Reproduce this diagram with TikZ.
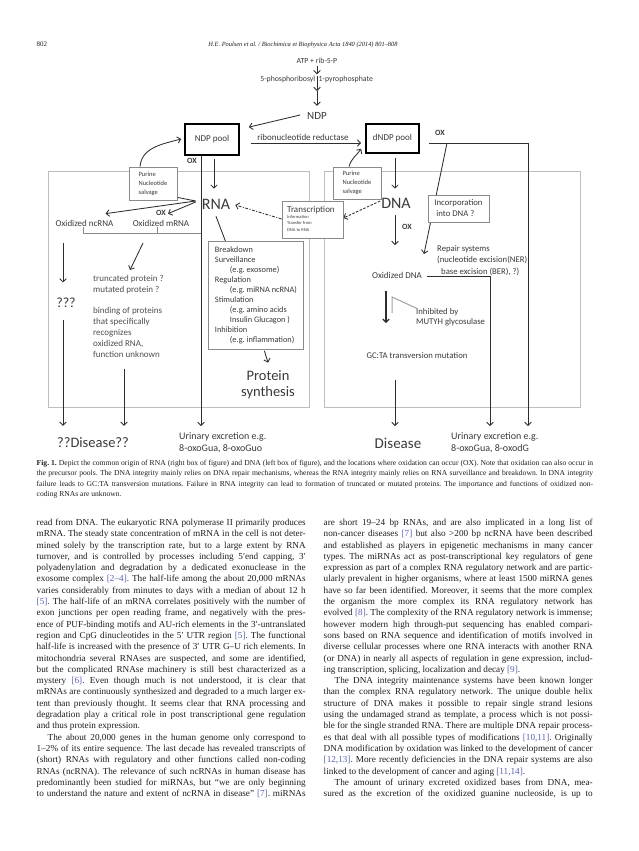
\documentclass[tikz,border=0pt]{standalone}
\usepackage{fontspec}
\setmainfont{Liberation Serif}
\newfontfamily\figfont{Carlito}
\usepackage{graphicx}
\usetikzlibrary{arrows.meta,backgrounds}
\definecolor{figtext}{HTML}{3A3A3A}
\definecolor{figline}{HTML}{2E2E2E}
\definecolor{boxgray}{HTML}{8A8A8A}
\definecolor{biggray}{HTML}{BDBDBD}
\definecolor{citec}{HTML}{5A62B0}
\definecolor{bodyc}{HTML}{1E1E1E}
\definecolor{trunctext}{HTML}{505050}
\frenchspacing
\newcommand\FF[2]{\figfont\fontsize{#1}{#2}\selectfont}
\newcommand\CiteC[1]{\textcolor{citec}{#1}}
\newcommand\JLine[2]{\sbox0{#2}%
  \ifdim\wd0>\dimexpr#1\relax
    \pgfmathsetmacro\sqf{\the\dimexpr#1\relax/\the\wd0}%
    \scalebox{\sqf}[1]{\usebox0}%
  \else\makebox[#1][s]{#2}\fi}
\newcommand\BodyJ[4]{\node[bodytxt] (#1) at (#2,#3) {\JLine{269pt}{#4}};}
\newcommand\BodyP[4]{\node[bodytxt] (#1) at (#2,#3) {#4};}
\begin{document}
\begin{tikzpicture}[x=1pt,y=-1pt,
  ftxt/.style={inner sep=0pt, text=figtext},
  fl/.style={draw=figline, line width=0.85pt},
  arr/.style={fl, -{Straight Barb[length=3.2pt,width=6.5pt]}},
  darr/.style={arr, dash pattern=on 2.5pt off 1.5pt},
  ddarr/.style={arr, dash pattern=on 3pt off 1.5pt on 1pt off 1.5pt},
  bfl/.style={draw=boxgray, line width=0.8pt},
  inhib/.style={draw=boxgray!80, line width=1pt},
  thinbox/.style={draw=boxgray, line width=0.8pt, fill=white},
  pool/.style={draw=black, line width=1.7pt, fill=white, inner sep=0pt, text=figtext, font=\FF{9}{11}},
  bigbox/.style={draw=biggray, line width=1pt},
  bodytxt/.style={anchor=base west, inner sep=0pt, text=bodyc, font=\fontsize{9.2}{11.3}\selectfont},
  captxt/.style={anchor=base west, inner sep=0pt, text=bodyc, font=\fontsize{7.6}{10}\selectfont},
]
\useasboundingbox (0,0) rectangle (638,851);

% ---------------- header
\node[anchor=base west, inner sep=0pt, text=bodyc, font=\fontsize{7}{9}\selectfont] (pg) at (36.5,47) {802};
\node[anchor=base, inner sep=0pt, text=bodyc, font=\itshape\fontsize{6.4}{9}\selectfont] (hd) at (303,47) {H.E. Poulsen et al. / Biochimica et Biophysica Acta 1840 (2014) 801–808};

% ---------------- figure nodes
\node[ftxt,font=\FF{7.8}{9}] (atp) at (317,61) {ATP + rib-5-P};
\node[ftxt,font=\FF{7.8}{9},anchor=base east] (prppa) at (315.5,81.5) {5-phosphoribosyl};
\node[ftxt,font=\FF{7.8}{9},anchor=base west] (prppb) at (318.5,81.5) {1-pyrophosphate};
\node[ftxt,font=\FF{11}{13}] (ndp) at (317,116) {NDP};
\node[pool,minimum width=54pt,minimum height=31pt] (ndppool) at (212,139.5) {NDP pool};
\node[pool,minimum width=53pt,minimum height=29pt] (dndppool) at (392.5,138.5) {dNDP pool};
\node[ftxt,font=\FF{9}{11}] (rr) at (303,137) {ribonucleotide reductase};
\node[ftxt,font=\FF{8}{10}\bfseries] (oxa) at (192,161) {OX};
\node[ftxt,font=\FF{16}{18}] (rna) at (216,204) {RNA};
\node[ftxt,font=\FF{16}{18}] (dna) at (396,203) {DNA};
\node[thinbox,text=figtext,inner sep=0pt,align=left,font=\FF{6.5}{9},minimum width=48pt,minimum height=33pt] (salva) at (153,183.5) {Purine\\Nucleotide\\salvage};
\node[thinbox,text=figtext,inner sep=0pt,align=left,font=\FF{6.5}{9},minimum width=48pt,minimum height=32pt] (salvb) at (357,183) {Purine\\Nucleotide\\salvage};
\node[thinbox,minimum width=61pt,minimum height=37pt] (trans) at (312.5,219.5) {};
\node[ftxt,anchor=base west,font=\FF{9}{11}] (transt) at (287,212) {Transcription};
\node[ftxt,anchor=north west,align=left,font=\FF{4.5}{6.5}] (transs) at (287,215) {Information\\Transfer from\\DNA to RNA};
\node[ftxt,font=\FF{9}{11}] (oxnc) at (84.5,223) {Oxidized ncRNA};
\node[ftxt,font=\FF{9}{11}] (oxm) at (161,223) {Oxidized mRNA};
\node[ftxt,font=\FF{8}{10}\bfseries] (oxb) at (161,212.5) {OX};
\node[ftxt,font=\FF{14}{16}] (q3) at (66,303) {???};
\node[ftxt,anchor=north west,align=left,font=\FF{9}{11.5},text=trunctext] (trunc) at (93,275) {truncated protein ?\\mutated protein ?};
\node[ftxt,anchor=north west,align=left,font=\FF{9}{11},text=trunctext] (bind) at (93,307.5) {binding of proteins\\that specifically\\recognizes\\oxidized RNA,\\function unknown};
\node[thinbox,anchor=north west,inner xsep=5pt,inner ysep=4pt,minimum width=95pt,minimum height=108pt,align=left,text=figtext,font=\FF{8.3}{10}] (brk) at (208,241) {Breakdown\\Surveillance\\\hspace*{15pt}(e.g. exosome)\\Regulation\\\hspace*{15pt}(e.g. miRNA ncRNA)\\Stimulation\\\hspace*{15pt}(e.g. amino acids\\\hspace*{15pt}Insulin Glucagon )\\Inhibition\\\hspace*{15pt}(e.g. inflammation)};
\node[ftxt,align=center,font=\FF{14.5}{16}] (prot) at (268,385) {Protein\\synthesis};
\node[ftxt,font=\FF{8}{10}\bfseries] (oxc) at (440,133) {OX};
\node[ftxt,font=\FF{8}{10}\bfseries] (oxd) at (407,227) {OX};
\node[thinbox,text=figtext,inner sep=0pt,align=left,font=\FF{8.7}{11},minimum width=61pt,minimum height=27pt] (inc) at (458.5,208.5) {Incorporation\\\hspace*{2pt}into DNA ?};
\node[ftxt,anchor=north west,align=left,font=\FF{8.7}{11.5}] (rep) at (437,245) {Repair systems\\(nucleotide excision(NER)\\\hspace*{4pt}base excision (BER), ?)};
\node[ftxt,font=\FF{9}{11}] (oxdna) at (397,275) {Oxidized DNA};
\node[ftxt,anchor=north west,align=left,font=\FF{8.7}{10.5}] (inh) at (416,308) {Inhibited by\\MUTYH glycosulase};
\node[ftxt,font=\FF{8.7}{11}] (gcta) at (417,356) {GC:TA transversion mutation};
\node[ftxt,font=\FF{14.5}{16}] (disa) at (93,443) {??Disease??};
\node[ftxt,font=\FF{15}{17}] (disb) at (398,443) {Disease};
\node[ftxt,anchor=north west,align=left,font=\FF{10}{12.5}] (ura) at (179,432) {Urinary excretion e.g.\\8-oxoGua, 8-oxoGuo};
\node[ftxt,anchor=north west,align=left,font=\FF{10}{12.5}] (urb) at (451,432) {Urinary excretion e.g.\\8-oxoGua, 8-oxodG};

% ---------------- connectors (under the boxes)
\begin{pgfonlayer}{background}
\fill[white] (0,0) rectangle (638,851);
\draw[bigbox] (48,171) rectangle (309,407);
\draw[bigbox] (324,171) rectangle (580,407);
% top chain
\coordinate (kmid) at (317,91);
\draw[arr,shorten <=1.8pt,shorten >=1.6pt] (atp.south) -- (atp.south |- prppa.north);
\draw[arr] (atp.south |- prppa.north) -- (kmid);
\draw[arr,shorten >=6.5pt] (kmid) -- (ndp.north);
\draw[arr] ([xshift=-7pt,yshift=1pt]ndp.west) -- ([xshift=9pt,yshift=-4pt]ndppool.north east);
\draw[arr] ([xshift=11pt,yshift=-3.5pt]ndppool.east) -- ([xshift=-4pt,yshift=-4.5pt]dndppool.west);
\draw[arr] ([xshift=-13pt]salva.north) to[out=85,in=195] ([xshift=-3pt,yshift=0.5pt]ndppool.west);
\draw[arr] ([xshift=-8pt]salvb.north) to[out=75,in=235] ([xshift=-4pt,yshift=5pt]dndppool.south west);
\draw[arr] ([xshift=2pt,yshift=-3pt]ndppool.south) -- ([xshift=-2pt,yshift=10pt]rna.north);
\draw[arr] ([xshift=2.5pt,yshift=-4pt]dndppool.south) -- ([xshift=-1pt,yshift=9pt]dna.north);
% RNA side
\coordinate (e1) at ([xshift=22pt,yshift=6pt]ura.north west);
\draw[arr] ([xshift=-11pt]ndppool.south) -- (e1);
\draw[bfl] (83,227) -- (83,233) -- (201,233);
\draw[bfl] (157,227) -- (157,233);
\coordinate (j1) at ([xshift=-6pt,yshift=3pt]rna.west);
\draw[fl] (j1) -- ([yshift=3pt]salva.south east);
\draw[arr] (j1) -- ([xshift=-8pt,yshift=6pt]oxnc.north east);
\draw[arr] ([yshift=-1pt]j1) -- ([xshift=7pt,yshift=6pt]oxm.north);
\draw[ddarr] ([yshift=0.5pt]trans.west) -- ([xshift=5pt,yshift=-1pt]rna.east);
\draw[darr] ([xshift=-1pt,yshift=2pt]dna.west) -- ([yshift=1.5pt]trans.east);
\draw[fl] ([yshift=-7pt]rna.south) -- ([xshift=-30.5pt]brk.north);
\draw[arr] ([xshift=8.5pt,yshift=-1pt]brk.south) -- ([yshift=8pt]prot.north);
\coordinate (s1) at (63,243);
\coordinate (s2) at (143,243);
\draw[arr] (s1) -- ([xshift=-3pt,yshift=15.5pt]q3.north);
\draw[arr] ([xshift=-3pt,yshift=-11.5pt]q3.south) -- ([xshift=-30pt,yshift=12pt]disa.north);
\draw[arr] (s2) -- ([xshift=37pt,yshift=5pt]trunc.north west);
\draw[arr] ([xshift=31pt,yshift=-11pt]bind.south west) -- ([xshift=31pt,yshift=12pt]disa.north);
% DNA side
\coordinate (o1) at ([xshift=9pt,yshift=-4.5pt]dndppool.east);
\coordinate (o2) at (528,143);
\coordinate (o3) at (447,143);
\draw[arr] (o1) -- (o2) -- ([xshift=77pt,yshift=6pt]urb.north west);
\draw[arr] (o3) -- ([xshift=-13pt,yshift=-9pt]rep.north west);
\coordinate (t5) at (395,245);
\draw[arr] ([xshift=-1pt,yshift=-7pt]dna.south) -- (t5);
\coordinate (o4) at (490,276);
\draw[arr] ([xshift=5pt,yshift=-1pt]oxdna.east) -- (o4) -- ([xshift=39pt,yshift=6pt]urb.north west);
\coordinate (t6) at (386,323);
\draw[arr,line width=1.1pt] ([xshift=-11pt,yshift=-13pt]oxdna.south) -- (t6);
\coordinate (ib) at (392,297);
\draw[inhib] (392,313) -- (ib) -- ([xshift=1pt,yshift=-0.5pt]inh.north west);
\draw[arr] ([xshift=-22pt,yshift=-21pt]gcta.south) -- ([xshift=-3pt,yshift=11.5pt]disb.north);
\end{pgfonlayer}

% ---------------- caption
\node[captxt] (cap1) at (36.5,465) {\JLine{556.5pt}{\textbf{Fig. 1.} Depict the common origin of RNA (right box of figure) and DNA (left box of figure), and the locations where oxidation can occur (OX). Note that oxidation can also occur in}};
\node[captxt] (cap2) at (36.5,475.5) {\JLine{556.5pt}{the precursor pools. The DNA integrity mainly relies on DNA repair mechanisms, whereas the RNA integrity mainly relies on RNA surveillance and breakdown. In DNA integrity}};
\node[captxt] (cap3) at (36.5,486) {\JLine{556.5pt}{failure leads to GC:TA transversion mutations. Failure in RNA integrity can lead to formation of truncated or mutated proteins. The importance and functions of oxidized non-}};
\node[captxt] (cap4) at (36.5,496.5) {coding RNAs are unknown.};

% ---------------- left column
\BodyJ{l1}{36.5}{525.4}{read from DNA. The eukaryotic RNA polymerase II primarily produces}
\BodyJ{l2}{36.5}{536.7}{mRNA. The steady state concentration of mRNA in the cell is not deter-}
\BodyJ{l3}{36.5}{548.0}{mined solely by the transcription rate, but to a large extent by RNA}
\BodyJ{l4}{36.5}{559.3}{turnover, and is controlled by processes including 5′end capping, 3′}
\BodyJ{l5}{36.5}{570.6}{polyadenylation and degradation by a dedicated exonuclease in the}
\BodyJ{l6}{36.5}{581.9}{exosome complex \CiteC{[2–4]}. The half-life among the about 20,000 mRNAs}
\BodyJ{l7}{36.5}{593.2}{varies considerably from minutes to days with a median of about 12 h}
\BodyJ{l8}{36.5}{604.5}{\CiteC{[5]}. The half-life of an mRNA correlates positively with the number of}
\BodyJ{l9}{36.5}{615.8}{exon junctions per open reading frame, and negatively with the pres-}
\BodyJ{l10}{36.5}{627.1}{ence of PUF-binding motifs and AU-rich elements in the 3′-untranslated}
\BodyJ{l11}{36.5}{638.4}{region and CpG dinucleotides in the 5′ UTR region \CiteC{[5]}. The functional}
\BodyJ{l12}{36.5}{649.7}{half-life is increased with the presence of 3′ UTR G–U rich elements. In}
\BodyJ{l13}{36.5}{661.0}{mitochondria several RNAses are suspected, and some are identified,}
\BodyJ{l14}{36.5}{672.3}{but the complicated RNAse machinery is still best characterized as a}
\BodyJ{l15}{36.5}{683.6}{mystery \CiteC{[6]}. Even though much is not understood, it is clear that}
\BodyJ{l16}{36.5}{694.9}{mRNAs are continuously synthesized and degraded to a much larger ex-}
\BodyJ{l17}{36.5}{706.2}{tent than previously thought. It seems clear that RNA processing and}
\BodyJ{l18}{36.5}{717.5}{degradation play a critical role in post transcriptional gene regulation}
\BodyP{l19}{36.5}{728.8}{and thus protein expression.}
\BodyJ{l20}{36.5}{740.1}{\hspace*{11pt}The about 20,000 genes in the human genome only correspond to}
\BodyJ{l21}{36.5}{751.4}{1–2\% of its entire sequence. The last decade has revealed transcripts of}
\BodyJ{l22}{36.5}{762.7}{(short) RNAs with regulatory and other functions called non-coding}
\BodyJ{l23}{36.5}{774.0}{RNAs (ncRNA). The relevance of such ncRNAs in human disease has}
\BodyJ{l24}{36.5}{785.3}{predominantly been studied for miRNAs, but “we are only beginning}
\BodyJ{l25}{36.5}{796.6}{to understand the nature and extent of ncRNA in disease” \CiteC{[7]}. miRNAs}

% ---------------- right column
\BodyJ{r1}{323.5}{525.4}{are short 19–24 bp RNAs, and are also implicated in a long list of}
\BodyJ{r2}{323.5}{536.7}{non-cancer diseases \CiteC{[7]} but also >200 bp ncRNA have been described}
\BodyJ{r3}{323.5}{548.0}{and established as players in epigenetic mechanisms in many cancer}
\BodyJ{r4}{323.5}{559.3}{types. The miRNAs act as post-transcriptional key regulators of gene}
\BodyJ{r5}{323.5}{570.6}{expression as part of a complex RNA regulatory network and are partic-}
\BodyJ{r6}{323.5}{581.9}{ularly prevalent in higher organisms, where at least 1500 miRNA genes}
\BodyJ{r7}{323.5}{593.2}{have so far been identified. Moreover, it seems that the more complex}
\BodyJ{r8}{323.5}{604.5}{the organism the more complex its RNA regulatory network has}
\BodyJ{r9}{323.5}{615.8}{evolved \CiteC{[8]}. The complexity of the RNA regulatory network is immense;}
\BodyJ{r10}{323.5}{627.1}{however modern high through-put sequencing has enabled compari-}
\BodyJ{r11}{323.5}{638.4}{sons based on RNA sequence and identification of motifs involved in}
\BodyJ{r12}{323.5}{649.7}{diverse cellular processes where one RNA interacts with another RNA}
\BodyJ{r13}{323.5}{661.0}{(or DNA) in nearly all aspects of regulation in gene expression, includ-}
\BodyP{r14}{323.5}{672.3}{ing transcription, splicing, localization and decay \CiteC{[9]}.}
\BodyJ{r15}{323.5}{683.6}{\hspace*{11pt}The DNA integrity maintenance systems have been known longer}
\BodyJ{r16}{323.5}{694.9}{than the complex RNA regulatory network. The unique double helix}
\BodyJ{r17}{323.5}{706.2}{structure of DNA makes it possible to repair single strand lesions}
\BodyJ{r18}{323.5}{717.5}{using the undamaged strand as template, a process which is not possi-}
\BodyJ{r19}{323.5}{728.8}{ble for the single stranded RNA. There are multiple DNA repair process-}
\BodyJ{r20}{323.5}{740.1}{es that deal with all possible types of modifications \CiteC{[10,11]}. Originally}
\BodyJ{r21}{323.5}{751.4}{DNA modification by oxidation was linked to the development of cancer}
\BodyJ{r22}{323.5}{762.7}{\CiteC{[12,13]}. More recently deficiencies in the DNA repair systems are also}
\BodyP{r23}{323.5}{774.0}{linked to the development of cancer and aging \CiteC{[11,14]}.}
\BodyJ{r24}{323.5}{785.3}{\hspace*{11pt}The amount of urinary excreted oxidized bases from DNA, mea-}
\BodyJ{r25}{323.5}{796.6}{sured as the excretion of the oxidized guanine nucleoside, is up to}
\end{tikzpicture}
\end{document}
